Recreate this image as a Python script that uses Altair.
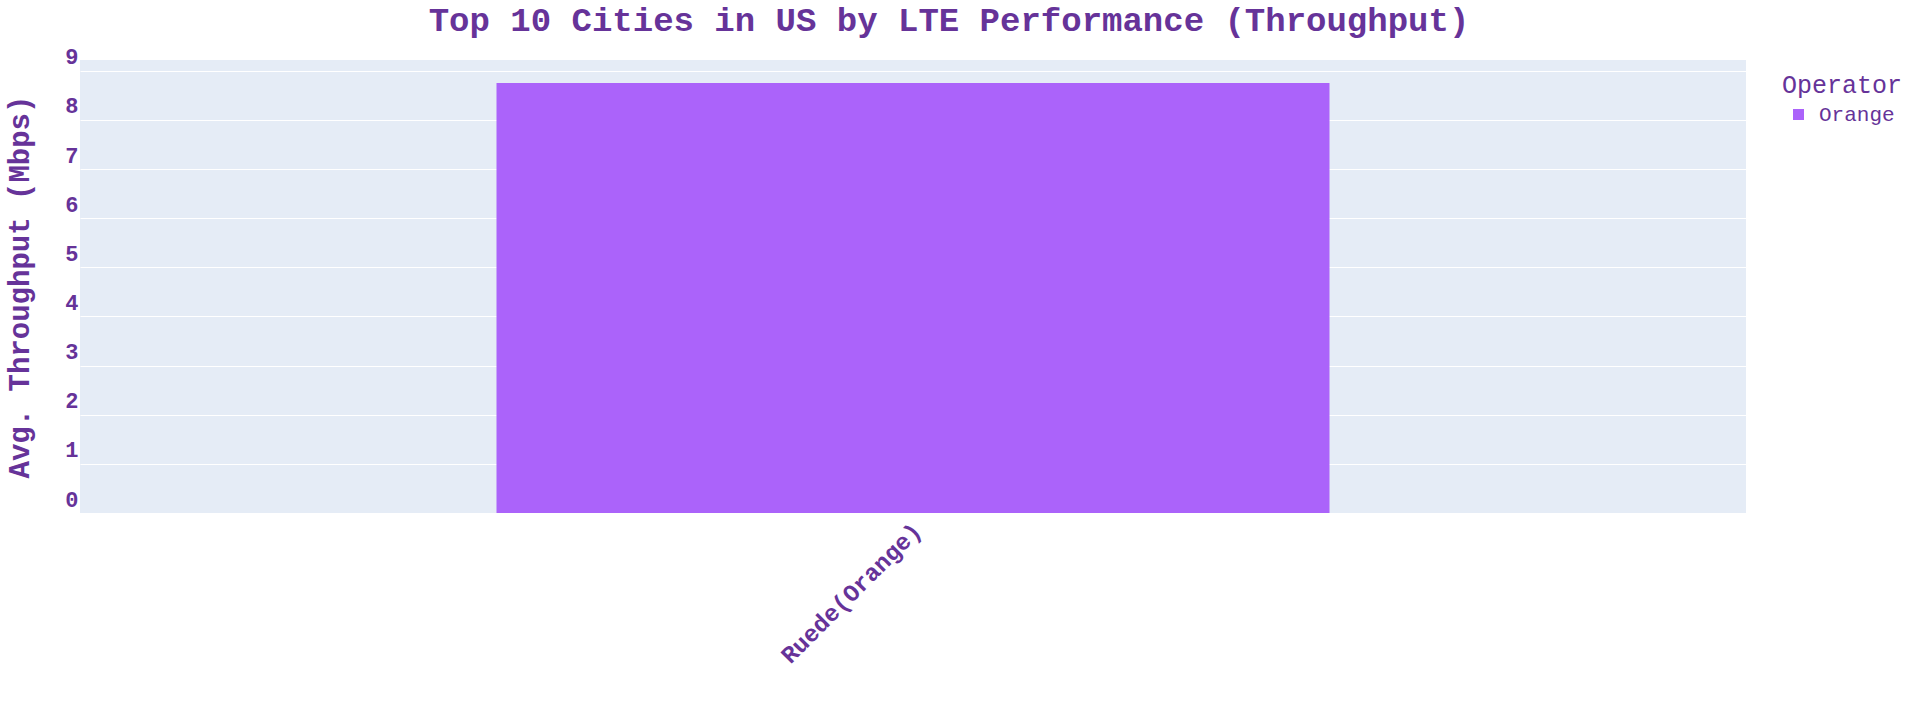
import altair as alt
import pandas as pd

cities = ["Ruede(Orange)"]
operators = ["Orange"]
throughput = [8.75]

df = pd.DataFrame({"City": cities, "Operator": operators, "Throughput": throughput})

TXT = "#663399"
FONT = "Liberation Mono"

chart = alt.Chart(df).mark_bar(color="#AB63FA").encode(
    x=alt.X("City:N", title=None,
            scale=alt.Scale(paddingInner=0, paddingOuter=0.5),
            axis=alt.Axis(labelAngle=-45, labelAlign="right", labelBaseline="middle",
                          labelFont=FONT, labelFontSize=24, labelFontWeight="bold",
                          labelColor=TXT, ticks=False, domain=False, labelPadding=14,
                          labelOffset=5, labelLimit=1000)),
    y=alt.Y("Throughput:Q", title="Avg. Throughput (Mbps)",
            scale=alt.Scale(domain=[0, 9.22], nice=False),
            axis=alt.Axis(values=list(range(10)), labelFont=FONT, labelFontSize=22,
                          labelFontWeight="bold", labelColor=TXT, ticks=False, domain=False,
                          labelPadding=2, labelOffset=-14, gridColor="white", gridWidth=1,
                          titleFont=FONT, titleFontSize=29, titleFontWeight="bold",
                          titleColor=TXT, titlePadding=30)),
    color=alt.Color("Operator:N", scale=alt.Scale(range=["#AB63FA"]),
                    legend=alt.Legend(title="Operator", orient="none", legendX=1702, legendY=13,
                                      titleFont=FONT, titleFontSize=25, titleFontWeight="normal",
                                      titleColor=TXT, labelFont=FONT, labelFontSize=21,
                                      labelColor=TXT, symbolType="square", symbolSize=121,
                                      symbolStrokeWidth=0, symbolOffset=6, labelOffset=10,
                                      titlePadding=6)),
).properties(
    width=1666, height=453,
    title=alt.TitleParams("Top 10 Cities in US by LTE Performance (Throughput)",
                          font=FONT, fontSize=34, fontWeight="bold", color=TXT,
                          anchor="middle", frame="group", dx=36, offset=-26, baseline="bottom"),
    autosize=alt.AutoSizeParams(type="none"),
    padding={"left": 80, "top": 60, "right": 174, "bottom": 207},
    background="white",
).configure_view(fill="#E5ECF6", stroke=None)

chart.save("out.html", embed_options={"renderer": "svg", "actions": False})
